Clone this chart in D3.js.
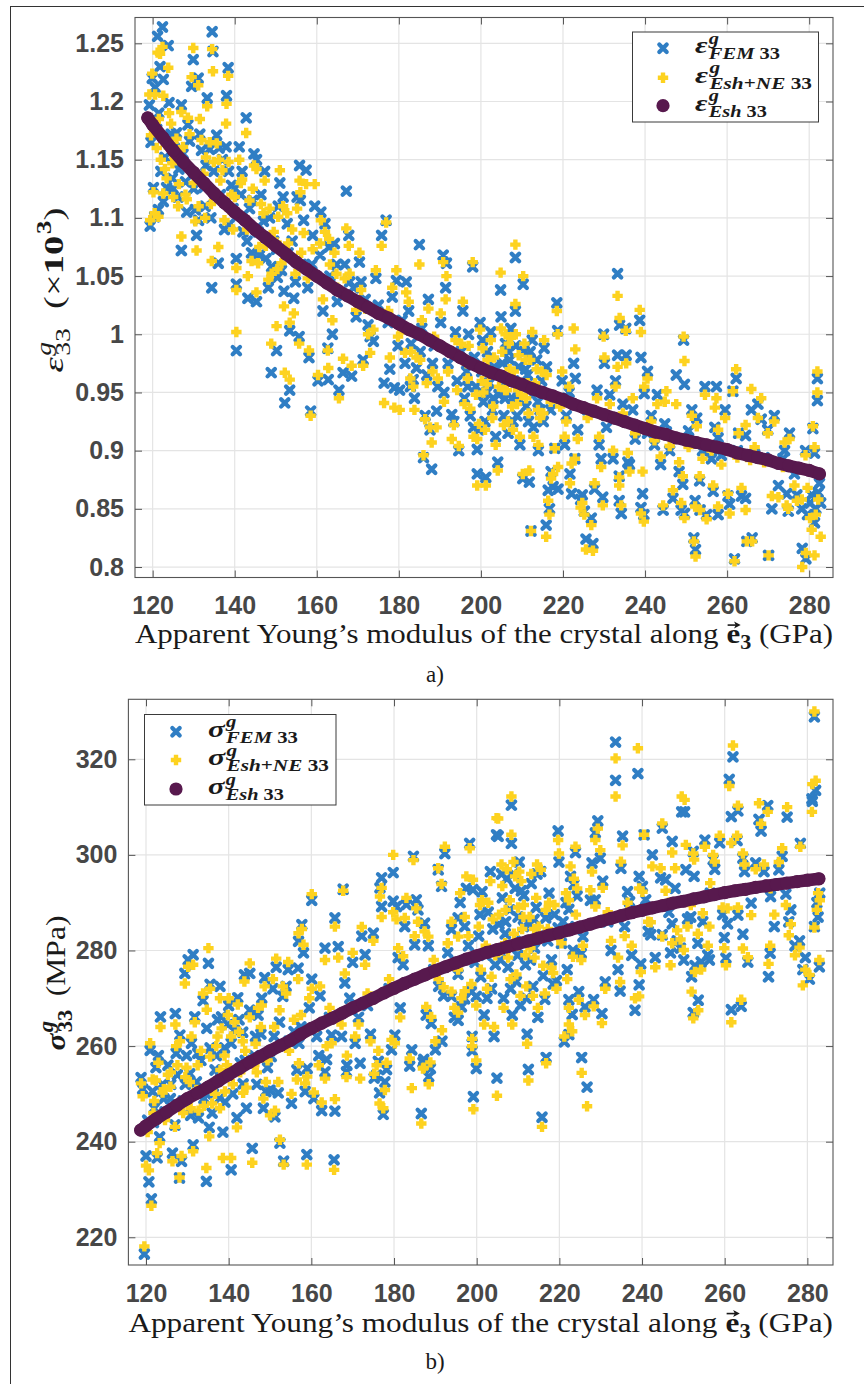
<!DOCTYPE html>
<html>
<head>
<meta charset="utf-8">
<script src="https://d3js.org/d3.v7.min.js"></script>
<style>
  body { margin: 0; background: #fff; }
  svg { display: block; }
</style>
</head>
<body>
<svg id="fig" width="864" height="1384"></svg>
<script>
// ---- data ----
const modulusTicks = [120, 140, 160, 180, 200, 220, 240, 260, 280];
const strainTicks = [0.8, 0.85, 0.9, 0.95, 1, 1.05, 1.1, 1.15, 1.2, 1.25];
const stressTicks = [220, 240, 260, 280, 300, 320];

// Eshelby prediction, [modulus, value]
const strainEsh = [
  [118.8,1.186],[120,1.180],[122.5,1.169],[125,1.158],[127.5,1.148],[130,1.139],[132.5,1.130],[135,1.121],
  [137.5,1.113],[140,1.105],[142.5,1.098],[145,1.090],[147.5,1.083],[150,1.076],[152.5,1.069],[155,1.062],
  [157.5,1.056],[160,1.050],[162.5,1.044],[165,1.038],[167.5,1.033],[170,1.028],[172.5,1.023],[175,1.018],
  [177.5,1.014],[180,1.009],[182.5,1.004],[185,1.000],[187.5,0.995],[190,0.990],[192.5,0.985],[195,0.980],
  [197.5,0.975],[200,0.971],[202.5,0.967],[205,0.964],[207.5,0.960],[210,0.957],[212.5,0.953],[215,0.950],
  [217.5,0.947],[220,0.944],[222.5,0.940],[225,0.937],[227.5,0.934],[230,0.931],[232.5,0.928],[235,0.925],
  [237.5,0.922],[240,0.919],[242.5,0.916],[245,0.914],[247.5,0.911],[250,0.909],[252.5,0.907],[255,0.905],
  [257.5,0.903],[260,0.901],[262.5,0.898],[265,0.896],[267.5,0.894],[270,0.892],[272.5,0.889],[275,0.887],
  [277.5,0.885],[280,0.883],[282.5,0.880]
];
const stressEsh = [
  [118.7,242.4],[120,243.3],[122.5,244.8],[125,246.2],[127.5,247.6],[130,249.0],[132.5,250.2],[135,251.4],
  [137.5,252.7],[140,254.0],[142.5,255.3],[145,256.6],[147.5,257.8],[150,259.0],[152.5,260.1],[155,261.2],
  [157.5,262.5],[160,263.7],[162.5,264.8],[165,265.8],[167.5,266.9],[170,268.0],[172.5,269.0],[175,270.0],
  [177.5,271.1],[180,272.1],[182.5,273.1],[185,274.0],[187.5,274.9],[190,275.8],[192.5,276.6],[195,277.4],
  [197.5,278.2],[200,278.9],[202.5,279.6],[205,280.2],[207.5,280.8],[210,281.4],[212.5,282.0],[215,282.6],
  [217.5,283.2],[220,283.7],[222.5,284.3],[225,284.9],[227.5,285.5],[230,286.1],[232.5,286.7],[235,287.3],
  [237.5,287.9],[240,288.4],[242.5,288.9],[245,289.4],[247.5,289.9],[250,290.3],[252.5,290.8],[255,291.2],
  [257.5,291.7],[260,292.1],[262.5,292.5],[265,292.8],[267.5,293.2],[270,293.5],[272.5,293.8],[275,294.1],
  [277.5,294.4],[280,294.7],[282.8,295.0]
];

// grains: [modulus, FEM, Esh+NE]
const strainGrains = [
  [119.2,1.197,1.206],[119.4,1.093,1.098],[119.6,1.165,1.171],[119.9,1.220,1.224],[120.2,1.126,1.122],
  [120.5,1.101,1.104],[120.6,1.212,1.206],[121.0,1.176,1.160],[121.2,1.256,1.242],[121.4,1.107,1.101],
  [121.8,1.230,1.241],[122.0,1.140,1.150],[122.4,1.264,1.247],[122.6,1.114,1.121],[122.6,1.219,1.205],
  [123.0,1.152,1.142],[123.4,1.126,1.134],[123.8,1.248,1.229],[124.0,1.199,1.190],[124.5,1.172,1.181],
  [124.8,1.134,1.147],[125.3,1.160,1.152],[125.8,1.173,1.168],[126.2,1.118,1.110],[126.4,1.142,1.129],
  [127.0,1.197,1.191],[127.0,1.072,1.084],[127.4,1.155,1.161],[128.0,1.131,1.120],[128.3,1.105,1.116],
  [129.0,1.166,1.172],[129.5,1.213,1.221],[129.9,1.236,1.246],[130.4,1.107,1.097],[130.7,1.085,1.072],
  [131.1,1.220,1.214],[131.5,1.172,1.185],[131.9,1.158,1.167],[132.4,1.126,1.138],[132.8,1.110,1.100],
  [133.3,1.203,1.196],[133.9,1.159,1.165],[134.4,1.040,1.063],[134.5,1.260,1.245],[134.7,1.243,1.226],
  [134.9,1.140,1.148],[135.6,1.171,1.164],[136.0,1.061,1.075],[136.5,1.120,1.132],[137.0,1.150,1.141],
  [137.9,1.161,1.181],[138.0,1.205,1.198],[138.4,1.229,1.222],[138.8,1.095,1.107],[139.2,1.128,1.120],
  [139.6,1.108,1.090],[140.4,1.043,1.038],[140.4,1.065,1.057],[140.4,0.986,1.002],[141.1,1.161,1.150],
  [141.5,1.120,1.130],[142.0,1.088,1.100],[142.8,1.186,1.173],[143.2,1.031,1.050],[143.6,1.108,1.115],
  [144.1,1.070,1.063],[144.7,1.155,1.145],[145.3,1.028,1.036],[145.3,1.150,1.142],[145.7,1.088,1.061],
  [146.4,1.120,1.112],[147.0,1.097,1.104],[147.6,1.065,1.076],[148.2,1.040,1.047],[148.9,0.967,0.992],
  [149.5,1.080,1.088],[150.2,1.073,1.079],[150.4,1.049,1.056],[150.2,0.986,1.007],[150.6,1.110,1.101],
  [151.0,1.130,1.141],[151.4,1.055,1.061],[152.0,1.037,1.024],[152.2,0.941,0.967],[152.8,1.095,1.104],
  [153.4,0.952,0.961],[153.4,1.003,1.010],[154.0,1.080,1.090],[154.4,1.031,1.018],[155.2,1.118,1.108],
  [155.8,1.145,1.132],[155.7,0.998,0.992],[156.2,1.060,1.070],[156.8,1.098,1.087],[157.4,1.141,1.129],
  [157.8,1.040,1.048],[158.1,0.980,0.986],[158.5,0.934,0.930],[159.0,1.085,1.073],[159.5,1.110,1.129],
  [160.3,0.960,0.965],[160.8,1.068,1.078],[161.5,1.020,1.030],[162.0,1.095,1.088],[162.7,0.988,0.986],
  [162.8,0.961,0.971],[163.2,1.050,1.060],[163.8,1.000,1.012],[164.3,1.078,1.070],[165.0,1.028,1.040],
  [165.4,0.952,0.945],[166.4,0.967,0.979],[166.8,1.060,1.048],[167.2,1.123,1.091],[167.8,1.085,1.076],
  [168.5,0.964,0.973],[169.0,1.040,1.030],[169.6,1.015,1.021],[170.4,1.062,1.070],[171.3,0.978,0.973],
  [171.8,1.030,1.022],[172.5,1.008,1.000],[173.0,0.998,0.984],[173.8,0.994,1.004],[174.4,1.048,1.055],
  [175.0,1.025,1.017],[175.8,1.085,1.076],[176.4,0.958,0.941],[176.9,1.098,1.096],[177.4,1.010,1.020],
  [177.8,0.970,0.980],[178.4,1.032,1.040],[178.9,0.954,0.937],[179.4,1.046,1.055],[179.8,0.990,0.998],
  [180.2,0.952,0.935],[180.8,1.012,1.004],[181.5,0.975,0.984],[181.8,1.045,1.036],[182.4,1.020,1.028],
  [183.0,0.992,0.985],[183.5,0.961,0.955],[183.8,0.945,0.935],[184.3,0.971,0.980],[185.0,1.077,1.060],
  [185.6,1.005,1.012],[186.0,0.894,0.896],[186.4,0.930,0.927],[186.8,0.965,0.958],[187.2,1.030,1.022],
  [187.6,0.918,0.920],[188.0,0.884,0.907],[188.6,0.990,0.998],[189.2,0.934,0.920],[189.5,0.955,0.962],
  [190.2,1.010,1.018],[190.8,1.068,1.062],[191.4,1.040,1.030],[191.6,1.061,1.050],[192.0,0.975,0.968],
  [192.9,0.931,0.910],[193.4,0.925,0.922],[193.8,1.002,0.995],[194.2,0.960,0.952],[194.6,0.900,0.904],
  [195.2,0.985,0.992],[195.6,1.020,1.028],[196.0,0.945,0.940],[196.5,0.968,0.975],[197.0,1.000,0.990],
  [197.4,0.930,0.936],[198.0,1.058,1.062],[198.4,0.980,0.973],[198.8,0.955,0.948],[199.1,0.901,0.910],
  [199.1,0.880,0.870],[199.5,0.918,0.923],[199.8,1.010,1.004],[200.2,0.968,0.960],[200.6,0.942,0.950],
  [201.0,0.925,0.918],[201.2,0.877,0.870],[201.6,0.985,0.978],[202.0,0.958,0.965],[202.4,1.002,0.995],
  [202.8,0.935,0.928],[203.2,0.972,0.980],[203.6,0.912,0.905],[204.1,0.890,0.883],[204.4,0.948,0.955],
  [204.8,1.038,1.053],[204.9,1.015,1.005],[205.2,0.975,0.985],[205.6,0.930,0.922],[206.0,0.992,1.000],
  [206.3,0.960,0.952],[206.6,0.915,0.925],[207.0,0.978,0.970],[207.3,1.005,0.997],[207.6,0.945,0.938],
  [208.0,0.960,0.968],[208.4,1.066,1.077],[208.4,1.020,1.026],[208.5,0.990,1.000],[208.8,0.930,0.940],
  [209.2,0.972,0.982],[209.5,0.905,0.912],[209.8,0.955,0.948],[210.2,0.876,0.880],[210.3,1.043,1.050],
  [210.6,0.985,0.992],[211.0,0.938,0.945],[211.4,0.965,0.958],[211.8,0.873,0.883],[212.2,0.831,0.831],
  [212.5,0.995,1.002],[212.8,0.920,0.912],[213.2,0.950,0.958],[213.6,0.978,0.970],[214.0,0.900,0.905],
  [214.4,0.935,0.928],[214.8,0.960,0.968],[215.4,0.988,0.995],[215.9,0.836,0.826],[216.4,0.866,0.857],
  [216.7,0.850,0.845],[217.1,0.882,0.876],[217.6,0.869,0.880],[218.0,0.902,0.902],[218.5,1.027,1.020],
  [218.7,1.003,1.000],[218.8,0.867,0.886],[219.3,0.945,0.938],[219.8,0.960,0.968],[220.4,0.905,0.912],
  [220.8,0.930,0.925],[221.5,0.950,0.955],[221.7,0.880,0.872],[222.1,0.863,0.889],[222.6,0.975,1.005],
  [222.9,0.893,0.893],[223.0,0.962,0.987],[223.6,0.918,0.910],[224.3,0.858,0.851],[224.7,0.862,0.855],
  [225.2,0.848,0.845],[225.6,0.824,0.815],[226.0,0.935,0.928],[226.9,0.842,0.836],[227.3,0.820,0.814],
  [227.7,0.867,0.872],[228.3,0.952,0.945],[228.8,0.905,0.912],[229.3,0.893,0.886],[229.7,0.860,0.853],
  [229.9,1.000,0.998],[230.1,0.975,0.980],[230.6,0.920,0.930],[231.4,0.948,0.940],[232.2,0.893,0.900],
  [232.8,0.960,0.955],[233.3,1.052,1.033],[233.3,0.982,0.972],[233.7,0.878,0.877],[233.7,0.857,0.870],
  [233.8,1.008,1.014],[234.2,0.846,0.853],[234.6,0.940,0.932],[235.3,1.005,1.003],[235.4,0.982,0.975],
  [235.8,0.890,0.898],[236.2,0.888,0.882],[237.0,0.935,0.945],[237.6,0.910,0.915],[238.7,1.012,1.021],
  [239.0,0.980,1.002],[239.0,0.851,0.846],[239.4,0.863,0.882],[239.7,0.845,0.839],[239.8,0.949,0.955],
  [240.6,0.968,0.962],[240.6,0.915,0.920],[241.5,0.930,0.925],[242.3,0.905,0.909],[243.0,0.948,0.940],
  [243.8,0.888,0.895],[244.4,0.849,0.853],[244.8,0.923,0.942],[245.2,0.916,0.951],[246.0,0.900,0.904],
  [246.8,0.859,0.866],[247.6,0.965,0.940],[248.3,0.882,0.890],[248.8,0.849,0.855],[249.2,0.871,0.878],
  [249.4,0.995,0.998],[249.6,0.957,0.977],[249.6,0.846,0.842],[250.6,0.917,0.903],[251.4,0.935,0.930],
  [251.9,0.825,0.822],[252.2,0.857,0.852],[252.3,0.815,0.809],[252.6,0.928,0.921],[253.3,0.874,0.878],
  [253.4,0.849,0.849],[254.0,0.900,0.893],[254.6,0.955,0.948],[255.0,0.845,0.841],[256.2,0.893,0.900],
  [256.6,0.865,0.870],[257.0,0.920,0.937],[257.4,0.955,0.945],[257.8,0.911,0.918],[257.8,0.845,0.852],
  [258.6,0.896,0.888],[259.5,0.935,0.928],[260.2,0.861,0.863],[260.6,0.854,0.846],[261.4,0.951,0.951],
  [261.8,0.807,0.805],[262.2,0.962,0.970],[262.5,0.900,0.894],[262.8,0.915,0.915],[263.5,0.861,0.868],
  [264.5,0.859,0.849],[264.5,0.913,0.922],[264.8,0.822,0.822],[265.6,0.896,0.892],[265.9,0.935,0.953],
  [266.1,0.825,0.822],[266.7,0.897,0.903],[267.5,0.940,0.928],[268.3,0.927,0.945],[269.0,0.894,0.890],
  [269.9,0.918,0.915],[270.1,0.810,0.810],[270.9,0.850,0.861],[271.5,0.930,0.925],[272.5,0.870,0.860],
  [273.6,0.893,0.886],[274.0,0.900,0.907],[274.5,0.863,0.853],[274.9,0.848,0.850],[275.2,0.915,0.910],
  [276.4,0.880,0.870],[277.0,0.862,0.857],[278.2,0.850,0.858],[278.3,0.816,0.800],[279.1,0.900,0.896],
  [279.2,0.807,0.812],[279.6,0.845,0.868],[280.2,0.855,0.842],[280.6,0.862,0.832],[280.9,0.919,0.921],
  [281.3,0.898,0.903],[281.3,0.838,0.810],[281.6,0.850,0.845],[282.0,0.943,0.950],[282.0,0.962,0.968],
  [282.2,0.864,0.858],[282.5,0.872,0.880],[282.8,0.855,0.826],
  [121.5,1.190,1.185],[123.2,1.170,1.163],[125.0,1.125,1.118],[126.8,1.150,1.158],[128.6,1.180,1.186],
  [130.0,1.125,1.130],[131.2,1.098,1.110],[133.0,1.145,1.152],[134.2,1.100,1.112],[136.2,1.160,1.150],
  [137.5,1.090,1.098],[138.5,1.140,1.148],[140.0,1.125,1.118],[141.8,1.140,1.133],[143.0,1.080,1.090],
  [144.4,1.115,1.125],[146.0,1.068,1.075],[147.3,1.140,1.132],[148.5,1.100,1.108],[149.0,1.058,1.052],
  [151.8,1.118,1.110],[153.0,1.070,1.078],[154.8,1.045,1.052],[156.0,1.115,1.122],[158.8,1.060,1.052],
  [161.0,1.105,1.098],[163.0,1.075,1.082],[164.8,1.060,1.052],[168.0,1.045,1.052],[170.8,1.045,1.038],
  [196.8,0.955,0.962],[198.2,0.920,0.912],[200.4,0.995,0.988],[201.4,0.950,0.957],[203.0,0.945,0.938],
  [205.9,0.945,0.952],[206.8,0.985,0.992],[207.8,0.925,0.918],[209.0,0.945,0.952],[210.9,0.970,0.978],
  [211.6,0.925,0.932],[212.0,0.985,0.978],[213.9,0.942,0.935],[215.2,0.925,0.932],[216.0,0.972,0.965],
  [217.0,0.935,0.942],[182.8,0.955,0.962],[185.2,0.985,0.978],[188.2,0.975,0.968],[191.0,0.950,0.942]
];

const stressGrains = [
  [118.8,253.4,252.2],[119.2,251.0,249.5],[119.6,216.5,218.1],[120.0,237.0,235.0],[120.4,244.5,242.0],
  [120.7,231.6,234.0],[121.0,259.1,260.6],[121.3,228.0,226.6],[121.6,250.5,253.0],[122.0,247.0,248.5],
  [122.4,255.5,252.8],[122.7,236.6,237.6],[123.3,241.0,239.7],[123.5,266.1,264.0],[124.0,252.0,250.3],
  [124.6,246.2,244.5],[125.3,256.0,254.0],[125.9,249.0,251.5],[126.4,237.6,235.9],[127.0,243.5,243.1],
  [127.1,266.8,264.5],[127.6,254.0,256.0],[128.1,232.4,232.5],[128.2,262.3,261.0],[128.6,235.9,237.0],
  [129.0,248.5,246.0],[129.4,275.2,273.1],[129.8,258.0,255.5],[130.2,278.0,276.6],[130.6,254.2,252.5],
  [131.0,260.6,262.0],[131.4,279.1,277.0],[131.4,239.3,238.0],[131.8,266.1,265.0],[132.2,252.5,250.8],
  [132.7,245.0,246.5],[133.3,257.0,259.0],[134.0,249.0,247.5],[134.6,231.7,234.5],[134.7,263.7,267.6],
  [135.1,277.3,280.5],[135.3,243.0,241.1],[135.5,259.6,257.8],[135.5,272.9,272.0],[136.3,250.0,252.0],
  [136.7,255.0,250.0],[137.3,265.5,262.0],[137.9,272.5,270.0],[137.9,249.1,247.0],[138.3,266.1,263.7],
  [138.6,242.0,236.6],[139.0,259.6,258.0],[139.1,248.3,250.5],[139.6,254.0,256.0],[140.0,268.5,270.0],
  [140.6,234.1,236.6],[140.6,260.6,262.0],[141.4,263.3,265.0],[142.0,245.0,243.0],[142.2,270.1,268.7],
  [142.8,256.5,254.5],[143.4,262.9,261.0],[143.5,252.1,250.2],[143.8,274.9,273.5],[144.3,247.0,251.3],
  [145.1,275.2,277.3],[145.1,267.5,266.0],[145.7,238.6,235.6],[146.2,258.0,256.0],[146.8,252.0,254.5],
  [147.1,266.5,268.0],[147.8,262.5,264.0],[148.4,247.0,249.0],[148.7,274.3,272.5],[149.4,255.5,257.0],
  [150.0,250.8,245.5],[150.3,257.8,258.8],[150.7,272.0,274.0],[151.2,245.2,246.5],[151.5,276.5,278.3],
  [152.0,250.2,252.5],[152.3,265.0,267.5],[152.4,239.7,240.4],[153.1,270.4,272.5],[153.3,235.9,235.2],
  [153.9,272.5,271.0],[154.4,276.0,277.6],[154.6,261.0,259.0],[155.2,248.0,250.0],[155.8,263.0,265.5],
  [156.5,255.0,253.0],[156.8,276.3,274.0],[156.9,281.9,283.6],[157.0,260.6,256.4],[157.7,285.4,284.5],
  [158.1,279.5,281.2],[158.5,250.5,252.2],[158.9,237.3,235.2],[159.0,255.3,253.6],[159.5,268.0,270.0],
  [160.1,290.5,291.8],[160.1,274.0,272.0],[160.6,249.0,250.3],[161.3,262.0,264.0],[162.1,270.5,272.5],
  [162.5,246.5,248.2],[163.3,254.6,253.2],[163.3,280.5,278.0],[163.7,257.2,260.0],[164.4,266.0,268.0],
  [164.9,262.3,260.6],[165.5,236.2,234.1],[165.7,246.4,248.9],[165.7,286.8,285.0],[166.5,280.8,278.5],
  [167.3,262.0,264.5],[167.7,292.8,292.5],[168.1,273.2,275.2],[168.5,254.6,253.5],[168.6,256.0,258.0],
  [169.3,270.0,268.0],[170.0,277.5,279.5],[170.6,260.6,262.0],[171.4,266.0,264.5],[171.8,256.4,253.2],
  [172.2,283.0,284.9],[173.0,279.1,277.0],[173.6,268.5,271.0],[174.3,262.5,261.0],[175.0,283.6,282.0],
  [175.2,253.3,254.2],[175.8,253.9,256.0],[176.2,256.8,259.0],[176.5,250.2,248.0],[176.6,293.1,291.3],
  [177.0,295.2,293.1],[177.0,289.2,287.0],[177.4,245.7,247.0],[177.8,252.5,250.8],[178.2,255.1,256.5],
  [178.8,272.0,274.0],[179.4,259.2,261.3],[179.8,296.3,300.0],[179.8,290.3,288.0],[180.2,262.3,260.6],
  [180.6,289.2,286.5],[181.0,278.5,280.5],[181.5,268.0,266.0],[182.2,277.0,278.8],[182.6,285.0,286.8],
  [183.0,289.6,291.0],[183.8,255.8,257.4],[184.3,259.2,251.2],[184.7,299.7,298.9],[185.0,281.2,283.0],
  [185.4,290.6,288.8],[185.8,288.5,286.0],[186.6,245.9,243.8],[187.0,256.6,255.3],[187.2,257.2,255.5],
  [187.4,285.7,284.0],[187.8,266.5,268.2],[188.3,281.0,282.9],[188.4,253.6,252.0],[188.8,255.3,256.6],
  [189.0,264.7,266.1],[189.6,276.0,278.0],[190.0,259.2,261.0],[190.7,296.9,297.2],[190.8,272.5,274.0],
  [191.5,293.4,293.9],[191.6,261.0,263.3],[192.0,270.5,272.3],[192.3,300.3,301.7],[193.0,279.5,281.5],
  [193.9,270.4,271.4],[193.9,284.4,286.0],[194.6,266.0,268.0],[195.5,265.4,267.0],[195.5,286.8,282.9],
  [195.5,275.0,276.0],[196.3,268.2,270.0],[197.1,285.0,287.0],[197.1,269.9,271.5],[197.5,293.0,295.5],
  [198.3,302.4,301.4],[198.7,271.4,273.0],[198.9,262.0,260.0],[198.9,259.0,261.5],[199.1,292.7,294.8],
  [199.2,249.4,246.8],[199.6,277.5,279.0],[199.9,255.3,257.0],[199.9,270.4,268.5],[200.5,283.0,285.0],
  [201.0,274.5,276.0],[201.3,292.3,290.5],[201.8,266.5,264.5],[202.2,279.0,281.0],[202.8,288.0,290.0],
  [203.3,296.5,294.5],[203.6,272.0,274.5],[204.2,262.0,264.0],[204.8,304.2,307.7],[204.9,253.3,249.6],
  [205.2,303.9,307.6],[205.4,285.5,287.5],[205.8,278.0,280.0],[206.2,291.0,293.5],[206.5,270.0,268.0],
  [206.9,283.5,281.5],[207.3,295.0,297.0],[207.6,276.5,278.5],[208.0,288.5,290.5],[208.4,310.4,312.2],
  [208.4,302.4,304.2],[208.6,266.5,264.5],[209.0,281.0,283.5],[209.3,293.0,295.5],[209.6,273.5,275.0],
  [210.0,287.0,289.0],[210.3,298.5,296.5],[210.6,268.5,270.5],[211.0,282.0,284.5],[211.4,291.5,289.5],
  [211.8,277.0,279.0],[212.2,262.5,260.5],[212.5,255.1,252.8],[212.8,285.5,287.0],[213.2,294.0,296.0],
  [213.6,272.5,270.5],[214.0,280.5,278.5],[214.4,289.0,291.0],[214.8,266.0,268.0],[215.5,296.5,296.9],
  [215.8,245.1,243.1],[216.1,274.7,276.8],[216.5,269.8,271.0],[216.7,286.8,288.5],[216.8,257.6,256.4],
  [217.5,292.0,290.0],[218.1,278.0,276.4],[218.5,273.0,275.3],[219.3,273.7,272.0],[219.7,305.0,303.1],
  [219.7,284.7,283.0],[219.9,298.5,300.3],[220.5,281.5,281.5],[221.2,260.9,262.0],[221.6,290.0,292.0],
  [222.3,269.7,268.0],[222.3,262.4,264.5],[222.3,288.6,290.5],[222.7,295.5,297.6],[223.1,266.6,263.1],
  [223.3,280.0,278.7],[223.5,293.8,295.0],[223.9,300.5,301.7],[224.3,291.4,293.0],[224.7,271.4,269.7],
  [225.3,279.4,278.0],[225.4,257.6,254.4],[225.7,282.9,281.0],[226.2,268.2,266.5],[226.7,251.4,247.4],
  [227.5,290.5,292.6],[227.9,298.3,296.5],[228.3,269.7,268.3],[228.7,304.6,303.1],[228.7,290.6,289.2],
  [229.3,307.1,305.5],[229.9,299.3,301.0],[230.3,266.8,264.8],[230.5,294.5,293.1],[231.1,273.4,272.0],
  [231.7,286.0,288.0],[232.5,280.0,282.0],[233.6,323.6,320.2],[233.6,315.6,312.2],[234.2,276.0,278.5],
  [234.7,271.5,273.4],[234.9,297.2,298.6],[235.3,303.9,302.0],[235.8,285.0,283.0],[236.5,292.3,290.0],
  [237.0,290.2,288.0],[237.5,279.0,281.0],[238.3,267.5,270.0],[239.0,317.0,322.3],[239.3,272.8,270.4],
  [239.3,295.5,293.0],[239.7,277.2,275.5],[240.1,293.4,292.3],[240.5,304.2,304.2],[240.9,290.6,288.5],
  [241.5,284.0,286.0],[242.1,283.3,285.9],[242.5,300.0,297.6],[243.2,278.5,276.5],[244.5,295.2,297.2],
  [244.9,305.6,306.6],[244.9,283.3,282.9],[245.7,294.8,292.5],[246.5,288.0,290.0],[246.9,279.5,276.9],
  [247.3,302.8,300.5],[247.3,285.6,281.5],[248.0,293.0,297.2],[248.5,282.0,284.2],[249.3,280.5,282.3],
  [249.6,309.0,312.2],[250.1,278.0,280.1],[250.3,309.0,311.5],[250.6,296.9,302.1],[251.0,286.6,285.0],
  [251.8,287.0,289.5],[252.0,274.5,271.4],[252.4,300.7,300.3],[252.4,267.0,265.8],[252.6,295.5,299.0],
  [252.8,276.8,275.5],[253.5,281.5,283.5],[253.6,269.6,267.5],[254.3,277.6,276.0],[254.7,286.0,287.8],
  [255.2,303.1,301.7],[255.9,279.0,281.0],[256.3,278.0,285.0],[256.5,292.0,294.1],[257.2,299.0,300.0],
  [257.6,297.0,298.6],[258.8,302.5,304.0],[259.5,287.5,289.0],[259.9,282.7,280.5],[260.3,278.4,276.9],
  [260.7,285.6,288.8],[261.1,315.8,314.4],[261.6,308.0,302.5],[261.6,267.6,265.0],[262.0,320.5,322.9],
  [263.0,303.0,304.0],[263.2,309.2,310.3],[263.2,287.4,289.0],[264.0,268.3,269.7],[264.4,283.4,280.4],
  [264.4,299.3,300.3],[264.8,296.5,298.0],[265.6,277.6,278.6],[266.4,289.9,287.4],[267.5,298.3,297.0],
  [268.3,307.4,310.8],[268.8,305.0,306.5],[269.5,296.5,298.0],[270.4,310.3,309.0],[270.6,274.5,277.2],
  [271.0,279.4,281.0],[271.1,291.3,293.0],[272.0,285.0,287.5],[273.1,296.9,298.5],[273.9,299.7,301.4],
  [274.8,291.8,289.5],[275.1,307.9,310.0],[275.5,286.0,283.2],[276.0,288.5,285.5],[277.0,281.0,279.0],
  [278.1,282.0,280.6],[278.3,302.4,301.7],[278.9,276.0,272.7],[279.5,278.5,276.0],[280.5,274.0,274.9],
  [281.1,311.7,309.0],[281.2,311.2,314.8],[281.7,328.9,330.0],[281.7,285.0,284.8],[282.0,313.5,315.5],
  [282.3,290.0,288.5],[282.6,287.0,292.0],[282.9,276.6,278.0],[283.0,292.0,290.5],
  [121.8,244.0,246.0],[123.0,258.0,256.5],[124.3,249.0,251.0],[126.0,252.0,254.5],[127.3,258.5,260.0],
  [129.5,252.0,253.5],[130.8,245.5,247.0],[132.5,258.5,256.0],[133.8,269.5,271.0],[136.0,246.0,248.0],
  [137.0,258.0,260.0],[138.0,253.5,255.0],[139.8,264.5,266.5],[141.0,250.0,252.0],[142.5,265.5,263.0],
  [144.0,257.0,259.0],[146.5,262.0,260.5],[148.0,270.0,268.5],[149.0,250.5,252.5],[151.0,262.0,264.0],
  [157.5,264.0,266.5],[161.8,258.0,256.0],[196.0,290.0,292.0],[198.0,281.0,283.0],[200.8,287.5,289.5],
  [202.5,270.0,272.0],[203.9,284.5,286.5],[204.5,277.0,279.0],[206.0,296.0,298.0],[207.0,286.0,288.5],
  [208.2,272.0,274.0],[208.9,296.0,298.5],[209.9,279.0,281.0],[210.8,292.5,294.5],[211.3,285.0,287.0],
  [212.0,270.0,272.5],[213.0,278.0,280.5],[213.9,286.5,284.5],[214.6,296.0,298.0],[215.0,283.0,285.0],
  [217.2,282.0,284.5],[218.8,287.5,289.5],[220.9,286.0,284.0],[221.9,276.0,274.0],[224.0,285.0,287.5]
];

// ---- drawing ----
const SERIF = "'Liberation Serif','Times New Roman',serif";
const SANS = "'Liberation Sans',Arial,sans-serif";
const BLUE = '#2f7ec4', YELLOW = '#fdd21f', PURPLE = '#58194e';
const AXIS = '#555', GRID = '#e4e4e4', TICKTEXT = '#474747';

const svg = d3.select('#fig');

// figure frame
svg.append('rect').attr('x', 10.5).attr('y', 6.5).attr('width', 900).attr('height', 1400)
  .attr('fill', 'none').attr('stroke', '#333').attr('stroke-width', 1);

const crossPath = 'M-3.7,-3.7L3.7,3.7M-3.7,3.7L3.7,-3.7';
const plusPath = 'M-5.2,0H5.2M0,-5.2V5.2';
const CROSS_W = 4.2, PLUS_W = 4.4;

function addText(g, x, y, runs, size) {
  const t = g.append('text').attr('x', x).attr('y', y)
    .attr('font-family', SERIF).attr('font-size', size)
    .attr('fill', '#1a1a1a').style('white-space', 'pre');
  runs.forEach(r => t.append('tspan').text(r.t)
    .attr('font-style', r.it ? 'italic' : 'normal')
    .attr('font-weight', r.b ? 'bold' : 'normal'));
  return t;
}

// lays out base/sup/sub pieces left to right, returns total advance
function buildMath(g, parts) {
  let x = 0;
  parts.forEach(p => {
    const t = addText(g, x, 0, p.runs, p.size);
    const w = t.node().getComputedTextLength();
    if (p.arrow) {
      const ay = -p.size * 0.64, x0 = x + w * 0.08, x1 = x + w * 0.95;
      g.append('path').attr('d', `M${x0},${ay}H${x1 - 3}`)
        .attr('stroke', '#1a1a1a').attr('stroke-width', 1.6);
      g.append('path').attr('d', `M${x1 + 1},${ay}L${x1 - 5},${ay - 3.5}L${x1 - 3.5},${ay}L${x1 - 5},${ay + 3.5}Z`)
        .attr('fill', '#1a1a1a');
    }
    x += w;
    let extra = 0;
    [p.sup, p.sub].forEach(s => {
      if (!s) return;
      const dx = s.dx == null ? 1 : s.dx;
      const st = addText(g, x + dx, s.dy, s.runs, s.size);
      extra = Math.max(extra, st.node().getComputedTextLength() + dx);
    });
    x += extra + (p.after || 0);
  });
  return x;
}

function mathLabel(parent, parts, target, centered) {
  const outer = parent.append('g');
  const inner = outer.append('g');
  const w = buildMath(inner, parts);
  const s = target / w;
  inner.attr('transform', `translate(${centered ? -target / 2 : 0},0) scale(${s},1)`);
  return outer;
}

function xLabelParts() {
  return [
    { runs: [{ t: 'Apparent Young’s modulus of the crystal along ' }], size: 28 },
    { runs: [{ t: 'e', b: true }], size: 28, arrow: true,
      sub: { runs: [{ t: '3', b: true }], size: 20, dy: 6, dx: 0 } },
    { runs: [{ t: ' (GPa)' }], size: 28 }
  ];
}

function legendParts(sym, subRuns) {
  return [{ runs: [{ t: sym, it: true, b: true }], size: 24,
    sup: { runs: [{ t: 'g', it: true, b: true }], size: 16, dy: -9.5 },
    sub: { runs: subRuns, size: 16, dy: 6 } }];
}

function drawPanel(p) {
  const x = d3.scaleLinear().domain(p.xDomain).range([p.left, p.right]);
  const y = d3.scaleLinear().domain(p.yDomain).range([p.bottom, p.top]);
  const g = svg.append('g');

  // grid
  g.append('g').selectAll('line').data(modulusTicks).join('line')
    .attr('x1', d => x(d)).attr('x2', d => x(d)).attr('y1', p.top).attr('y2', p.bottom)
    .attr('stroke', GRID).attr('stroke-width', 1.2);
  g.append('g').selectAll('line').data(p.yTicks).join('line')
    .attr('y1', d => y(d)).attr('y2', d => y(d)).attr('x1', p.left).attr('x2', p.right)
    .attr('stroke', GRID).attr('stroke-width', 1.2);

  // FEM (blue crosses), then Esh+NE (yellow plus)
  g.append('g').selectAll('path').data(p.grains).join('path')
    .attr('d', crossPath).attr('transform', d => `translate(${x(d[0])},${y(d[1])})`)
    .attr('stroke', BLUE).attr('stroke-width', CROSS_W).attr('stroke-linecap', 'round').attr('fill', 'none');
  g.append('g').selectAll('path').data(p.grains).join('path')
    .attr('d', plusPath).attr('transform', d => `translate(${x(d[0])},${y(d[2])})`)
    .attr('stroke', YELLOW).attr('stroke-width', PLUS_W).attr('fill', 'none');

  // Eshelby curve made of dots
  g.append('path').datum(p.curve)
    .attr('d', d3.line().x(d => x(d[0])).y(d => y(d[1])))
    .attr('fill', 'none').attr('stroke', PURPLE).attr('stroke-width', 12.5).attr('stroke-linecap', 'round');
  g.append('g').selectAll('circle').data(p.curve).join('circle')
    .attr('cx', d => x(d[0])).attr('cy', d => y(d[1])).attr('r', 6.6).attr('fill', PURPLE);

  // axes: ticks inward on all four sides
  const fmt = d3.format('~g');
  const styleAxis = (a, labels) => {
    a.select('.domain').remove();
    a.selectAll('.tick line').attr('stroke', AXIS);
    a.selectAll('.tick text').attr('font-family', SANS).attr('font-weight', 'bold')
      .attr('font-size', 25).attr('fill', TICKTEXT);
    if (!labels) a.selectAll('.tick text').remove();
  };
  g.append('g').attr('transform', `translate(0,${p.bottom})`)
    .call(d3.axisBottom(x).tickValues(modulusTicks).tickSizeInner(-7).tickSizeOuter(0).tickPadding(19).tickFormat(fmt))
    .call(a => styleAxis(a, true));
  g.append('g').attr('transform', `translate(0,${p.top})`)
    .call(d3.axisTop(x).tickValues(modulusTicks).tickSizeInner(-7).tickSizeOuter(0))
    .call(a => styleAxis(a, false));
  g.append('g').attr('transform', `translate(${p.left},0)`)
    .call(d3.axisLeft(y).tickValues(p.yTicks).tickSizeInner(-7).tickSizeOuter(0).tickPadding(11).tickFormat(fmt))
    .call(a => styleAxis(a, true));
  g.append('g').attr('transform', `translate(${p.right},0)`)
    .call(d3.axisRight(y).tickValues(p.yTicks).tickSizeInner(-7).tickSizeOuter(0))
    .call(a => styleAxis(a, false));
  g.append('rect').attr('x', p.left).attr('y', p.top)
    .attr('width', p.right - p.left).attr('height', p.bottom - p.top)
    .attr('fill', 'none').attr('stroke', AXIS).attr('stroke-width', 1.1);

  // legend
  const L = p.legend;
  g.append('rect').attr('x', L.x).attr('y', L.y).attr('width', L.w).attr('height', L.h)
    .attr('fill', '#fff').attr('stroke', '#3a3a3a').attr('stroke-width', 1);
  g.append('path').attr('d', crossPath).attr('transform', `translate(${L.mx},${L.rows[0]})`)
    .attr('stroke', BLUE).attr('stroke-width', CROSS_W).attr('stroke-linecap', 'round');
  g.append('path').attr('d', plusPath).attr('transform', `translate(${L.mx},${L.rows[1]})`)
    .attr('stroke', YELLOW).attr('stroke-width', PLUS_W);
  g.append('circle').attr('cx', L.mx).attr('cy', L.rows[2]).attr('r', 6.6).attr('fill', PURPLE);
  const subs = [
    [{ t: 'FEM', it: true, b: true }, { t: ' 33', b: true }],
    [{ t: 'Esh', it: true, b: true }, { t: '+', b: true }, { t: 'NE', it: true, b: true }, { t: ' 33', b: true }],
    [{ t: 'Esh', it: true, b: true }, { t: ' 33', b: true }]
  ];
  subs.forEach((s, i) => {
    mathLabel(g, legendParts(L.sym, s), L.widths[i], false)
      .attr('transform', `translate(${L.tx},${L.rows[i] + 5})`);
  });

  // axis labels and caption
  mathLabel(g, xLabelParts(), p.right - p.left, false)
    .attr('transform', `translate(${p.left},${p.xLabelY})`);
  mathLabel(g, p.yLabel, p.yLabelLen, true)
    .attr('transform', `translate(${p.yLabelX},${p.yLabelMid}) rotate(-90)`);
  g.append('text').attr('x', 435).attr('y', p.captionY).attr('text-anchor', 'middle')
    .attr('font-family', SERIF).attr('font-size', 23).attr('fill', '#1a1a1a').text(p.caption);
}

drawPanel({
  left: 135, right: 833, top: 17.5, bottom: 577.5,
  xDomain: [115.7, 285.8], yDomain: [0.791, 1.2722], yTicks: strainTicks,
  grains: strainGrains, curve: strainEsh,
  legend: { x: 632.5, y: 32, w: 186, h: 90, mx: 663, tx: 695, rows: [48.3, 77.7, 105.7],
            sym: 'ε', widths: [85, 117, 72] },
  yLabel: [
    { runs: [{ t: 'ε', it: true }], size: 28,
      sup: { runs: [{ t: 'g', it: true }], size: 20, dy: -12 },
      sub: { runs: [{ t: '33' }], size: 20, dy: 7 }, after: 14 },
    { runs: [{ t: '(×' }], size: 28 },
    { runs: [{ t: '10', b: true }], size: 28, sup: { runs: [{ t: '3', b: true }], size: 20, dy: -12 } },
    { runs: [{ t: ')' }], size: 28 }
  ],
  yLabelLen: 165, yLabelX: 63, yLabelMid: 290,
  xLabelY: 643, captionY: 682, caption: 'a)'
});

drawPanel({
  left: 128.4, right: 833, top: 699.3, bottom: 1265,
  xDomain: [115.74, 286.2], yDomain: [214.2, 332.55], yTicks: stressTicks,
  grains: stressGrains, curve: stressEsh,
  legend: { x: 144.5, y: 714.5, w: 191.5, h: 90.5, mx: 176, tx: 208, rows: [731.7, 760, 789],
            sym: 'σ', widths: [90, 121, 76] },
  yLabel: [
    { runs: [{ t: 'σ', it: true, b: true }], size: 28,
      sup: { runs: [{ t: 'g', it: true, b: true }], size: 20, dy: -12 },
      sub: { runs: [{ t: '33', b: true }], size: 20, dy: 7 }, after: 12 },
    { runs: [{ t: '(MPa)' }], size: 28 }
  ],
  yLabelLen: 135, yLabelX: 65, yLabelMid: 983,
  xLabelY: 1331.5, captionY: 1369, caption: 'b)'
});
</script>
</body>
</html>
